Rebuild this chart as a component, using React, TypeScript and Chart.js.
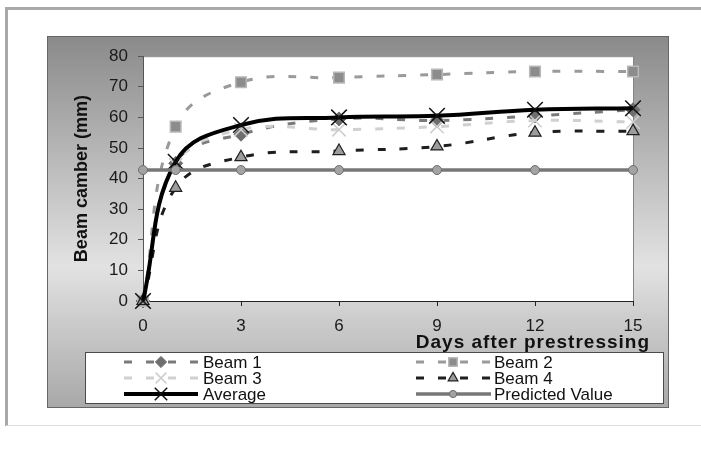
import React, { useEffect, useRef } from 'react';
import { Chart, registerables } from 'chart.js';
import { drawPoint } from 'chart.js/helpers';

Chart.register(...registerables);

// ---- data ----
const days = [0, 1, 3, 6, 9, 12, 15];
const beam1 = [0, 45, 54.5, 59.5, 59, 60.5, 62.5];
const beam2 = [0, 57, 71.5, 73, 74, 75, 75];
const beam3 = [0, 44.5, 56, 56, 57, 59, 58.5];
const beam4 = [0, 37, 47, 49, 50.5, 55, 55.5];
const average = [0, 45.5, 57.5, 60, 60.5, 62.5, 63];
const predicted = [42.8, 42.8, 42.8, 42.8, 42.8, 42.8, 42.8];
const seriesNames = ['Beam 1', 'Beam 2', 'Beam 3', 'Beam 4', 'Average', 'Predicted Value'];
const seriesValues = [beam1, beam2, beam3, beam4, average, predicted];
const xTickStep = 3;
const xMin = 0;
const xMax = 15;
const yMin = 0;
const yMax = 80;
const yTickStep = 10;
const yTitle = 'Beam camber (mm)';
const xTitle = 'Days after prestressing';

// ---- styles ----
const FONT = "'Liberation Sans', Arial, Helvetica, sans-serif";
const DASH = [8, 14];
const styles = [
  { color: '#7a7a7a', dash: DASH, width: 3, pointStyle: 'rectRot', radius: 7, bg: '#6e6e6e', border: '#6e6e6e', bw: 1, tension: 0.4 },
  { color: '#9a9a9a', dash: DASH, width: 3, pointStyle: 'rect', radius: 7.5, bg: '#8c8c8c', border: '#b8b8b8', bw: 1.5, tension: 0.4 },
  { color: '#d0d0d0', dash: DASH, width: 3, pointStyle: 'crossRot', radius: 9.5, bg: '#d0d0d0', border: '#cdcdcd', bw: 1.5, tension: 0.4 },
  { color: '#1e1e1e', dash: DASH, width: 3, pointStyle: 'triangle', radius: 7, bg: '#9c9c9c', border: '#1e1e1e', bw: 1.2, tension: 0.4 },
  { color: '#000000', dash: [], width: 4, pointStyle: 'crossRot', radius: 11, bg: '#000000', border: '#111111', bw: 1.5, tension: 0.4 },
  { color: '#777777', dash: [], width: 3.5, pointStyle: 'circle', radius: 4.5, bg: '#a3a3a3', border: '#6e6e6e', bw: 1, tension: 0 },
];

const CANVAS_W = 622;
const CANVAS_H = 372;

const decor = {
  id: 'decor',
  beforeDraw(chart: any) {
    const { ctx, width, height, chartArea: a } = chart;
    ctx.save();
    const g = ctx.createLinearGradient(0, 0, 0, height);
    g.addColorStop(0, '#8a8a8a');
    g.addColorStop(0.62, '#e2e2e2');
    g.addColorStop(1, '#a8a8a8');
    ctx.fillStyle = g;
    ctx.fillRect(0, 0, width, height);
    ctx.strokeStyle = '#666666';
    ctx.lineWidth = 1;
    ctx.strokeRect(0.5, 0.5, width - 1, height - 1);
    ctx.fillStyle = '#ffffff';
    ctx.fillRect(a.left, a.top, a.right - a.left, a.bottom - a.top);
    ctx.strokeStyle = '#858585';
    ctx.beginPath();
    ctx.moveTo(a.left, a.top + 0.5);
    ctx.lineTo(a.right + 0.5, a.top + 0.5);
    ctx.lineTo(a.right + 0.5, a.bottom);
    ctx.stroke();
    ctx.restore();
  },
  afterDraw(chart: any) {
    const { ctx, chartArea: a } = chart;
    ctx.save();
    // y title
    ctx.fillStyle = '#111111';
    ctx.font = `bold 18px ${FONT}`;
    ctx.textAlign = 'center';
    ctx.textBaseline = 'middle';
    ctx.translate(35, (a.top + a.bottom) / 2);
    ctx.rotate(-Math.PI / 2);
    ctx.fillText(yTitle, 0, 0);
    ctx.restore();

    // x title
    ctx.save();
    ctx.fillStyle = '#111111';
    ctx.font = `bold 19px ${FONT}`;
    (ctx as any).letterSpacing = '1px';
    ctx.textAlign = 'right';
    ctx.textBaseline = 'middle';
    ctx.fillText(xTitle, a.right + 17, 307);
    ctx.restore();

    // legend
    ctx.save();
    const lx = 38, ly = 316, lw = 578, lh = 51;
    ctx.fillStyle = '#ffffff';
    ctx.fillRect(lx, ly, lw, lh);
    ctx.strokeStyle = '#4a4a4a';
    ctx.lineWidth = 1;
    ctx.strokeRect(lx + 0.5, ly + 0.5, lw, lh);
    const rowsY = [326, 342, 358];
    const lineStart = [77, 369];
    const lineEnd = [151, 444];
    const markX = [114, 406];
    const textX = [156, 447];
    seriesNames.forEach((name, i) => {
      const st = styles[i];
      const col = i % 2;
      const row = Math.floor(i / 2);
      const y = rowsY[row];
      ctx.strokeStyle = st.color;
      ctx.lineWidth = st.width;
      ctx.setLineDash(st.dash);
      ctx.lineDashOffset = 0;
      ctx.beginPath();
      ctx.moveTo(lineStart[col], y);
      ctx.lineTo(lineEnd[col], y);
      ctx.stroke();
      ctx.setLineDash([]);
      ctx.fillStyle = st.bg;
      ctx.strokeStyle = st.border;
      ctx.lineWidth = st.bw;
      drawPoint(ctx, { pointStyle: st.pointStyle, radius: st.radius * 0.8, borderWidth: st.bw, rotation: 0 } as any, markX[col], y);
      ctx.fillStyle = '#111111';
      ctx.font = `17px ${FONT}`;
      ctx.textAlign = 'left';
      ctx.textBaseline = 'middle';
      ctx.fillText(name, textX[col], y + 1);
    });
    ctx.restore();
  },
};

export default function App() {
  const ref = useRef<HTMLCanvasElement>(null);
  useEffect(() => {
    if (!ref.current) return;
    const chart = new Chart(ref.current, {
      type: 'line',
      data: {
        datasets: seriesValues.map((vals, i) => {
          const st = styles[i];
          return {
            label: seriesNames[i],
            data: days.map((d, j) => ({ x: d, y: vals[j] })),
            borderColor: st.color,
            borderWidth: st.width,
            borderDash: st.dash,
            pointStyle: st.pointStyle as any,
            pointRadius: st.radius,
            pointBackgroundColor: st.bg,
            pointBorderColor: st.border,
            pointBorderWidth: st.bw,
            tension: st.tension,
            fill: false,
            clip: false as any,
            order: seriesNames.length - 1 - i,
          };
        }),
      },
      options: {
        responsive: false,
        animation: false,
        events: [],
        layout: { padding: { top: 19, right: 36, left: 0, bottom: 0 } },
        plugins: { legend: { display: false }, tooltip: { enabled: false }, title: { display: false } },
        scales: {
          x: {
            type: 'linear',
            min: xMin,
            max: xMax,
            afterFit: (s: any) => { s.height = CANVAS_H - 265; },
            ticks: { stepSize: xTickStep, color: '#1a1a1a', font: { family: FONT, size: 17 }, padding: 10, maxRotation: 0 },
            grid: { drawOnChartArea: false, drawTicks: true, tickLength: 5, color: '#222222' },
            border: { color: '#222222', width: 1 },
          },
          y: {
            type: 'linear',
            min: yMin,
            max: yMax,
            afterFit: (s: any) => { s.width = 96; },
            ticks: { stepSize: yTickStep, color: '#1a1a1a', font: { family: FONT, size: 17 }, padding: 10 },
            grid: { drawOnChartArea: false, drawTicks: true, tickLength: 5, color: '#555555' },
            border: { color: '#555555', width: 1 },
          },
        },
      },
      plugins: [decor],
    });
    return () => chart.destroy();
  }, []);

  return (
    <div style={{ position: 'absolute', left: 0, top: 0, width: 701, height: 449, background: '#ffffff', overflow: 'hidden' }}>
      <div style={{ position: 'absolute', left: 5, top: 7, width: 720, height: 415, borderTop: '3px solid #a9a9a9', borderLeft: '3px solid #a9a9a9', borderBottom: '1px solid #dcdcdc' }} />
      <canvas ref={ref} width={CANVAS_W} height={CANVAS_H} style={{ position: 'absolute', left: 47, top: 36, width: CANVAS_W, height: CANVAS_H }} />
    </div>
  );
}
